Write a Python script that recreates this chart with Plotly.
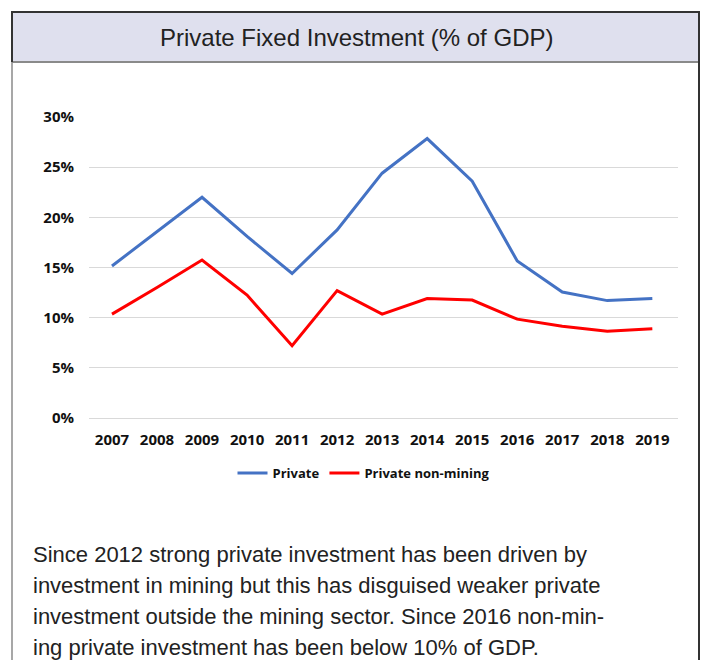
import plotly.graph_objects as go

# Data: private fixed investment as a share of GDP (%)
years = [str(y) for y in range(2007, 2020)]
private = [15.15, 18.6, 22.0, 18.1, 14.4, 18.75, 24.4, 27.85, 23.6, 15.65, 12.55, 11.7, 11.9]
private_non_mining = [10.35, 13.0, 15.75, 12.25, 7.2, 12.7, 10.35, 11.9, 11.75, 9.85, 9.15, 8.65, 8.9]
y_ticks = [0, 5, 10, 15, 20, 25, 30]
y_tick_labels = [f"{v}%" for v in y_ticks]

title_text = "Private Fixed Investment (% of GDP)"
caption_lines = [
    "Since 2012 strong private investment has been driven by",
    "investment in mining but this has disguised weaker private",
    "investment outside the mining sector. Since 2016 non-min-",
    "ing private investment has been below 10% of GDP.",
]

W, H = 703, 660
PL, PR, PT, PB = 89, 678, 117, 418  # plot area in pixels


def px(x):
    return (x - PL) / (PR - PL)


def py(y):
    return (PB - y) / (PB - PT)


tick_font = dict(family="Open Sans", size=15, color="#111111")

fig = go.Figure()
fig.add_trace(go.Scatter(x=years, y=private, name="Private", mode="lines",
                         line=dict(color="#4472C4", width=3)))
fig.add_trace(go.Scatter(x=years, y=private_non_mining, name="Private non-mining", mode="lines",
                         line=dict(color="#FF0000", width=3)))

shapes = [
    # header band
    dict(type="rect", xref="paper", yref="paper", x0=px(12), x1=px(699), y0=py(12), y1=py(62),
         fillcolor="#dfe0ee", line=dict(width=0), layer="below"),
    dict(type="line", xref="paper", yref="paper", x0=px(12), x1=px(699), y0=py(62), y1=py(62),
         line=dict(color="#8a8a8a", width=2)),
    dict(type="line", xref="paper", yref="paper", x0=px(11), x1=px(700), y0=py(12), y1=py(12),
         line=dict(color="#333333", width=2)),
    # side borders
    dict(type="line", xref="paper", yref="paper", x0=px(12), x1=px(12), y0=py(12), y1=py(62),
         line=dict(color="#333333", width=2)),
    dict(type="line", xref="paper", yref="paper", x0=px(12), x1=px(12), y0=py(62), y1=py(662),
         line=dict(color="#8a8a8a", width=1.5)),
    dict(type="line", xref="paper", yref="paper", x0=px(699), x1=px(699), y0=py(12), y1=py(662),
         line=dict(color="#333333", width=2)),
]

annotations = [
    dict(text=title_text, xref="paper", yref="paper", x=px(356), y=py(37),
         xanchor="center", yanchor="middle", showarrow=False,
         font=dict(family="Liberation Sans", size=24, color="#222222")),
]
for i, line in enumerate(caption_lines):
    annotations.append(dict(text=line, xref="paper", yref="paper", x=px(31), y=py(554 + 31 * i),
                            xanchor="left", yanchor="middle", showarrow=False,
                            font=dict(family="Liberation Sans", size=22, color="#222222")))

fig.update_layout(
    width=W, height=H,
    margin=dict(l=PL, r=W - PR, t=PT, b=H - PB, pad=0),
    paper_bgcolor="white", plot_bgcolor="white",
    showlegend=True,
    legend=dict(orientation="h", x=px(364), y=py(473), xanchor="center", yanchor="middle",
                font=dict(family="Open Sans", size=13, color="#111111", weight="bold"),
                itemwidth=30, tracegroupgap=0, bgcolor="rgba(0,0,0,0)"),
    shapes=shapes,
    annotations=annotations,
    xaxis=dict(type="category", range=[-0.51, 12.57], showgrid=False, showline=False,
               ticks="", tickfont=dict(**tick_font, weight="bold"), ticklabelstandoff=11,
               fixedrange=True),
    yaxis=dict(range=[0, 30], tickvals=y_ticks, ticktext=y_tick_labels, showgrid=True,
               gridcolor="#d9d9d9", gridwidth=1, zeroline=True, zerolinecolor="#d9d9d9",
               zerolinewidth=1, showline=False, ticks="",
               tickfont=dict(**tick_font, weight="bold"), ticklabelstandoff=14,
               fixedrange=True),
)

fig.write_html("out.html")
